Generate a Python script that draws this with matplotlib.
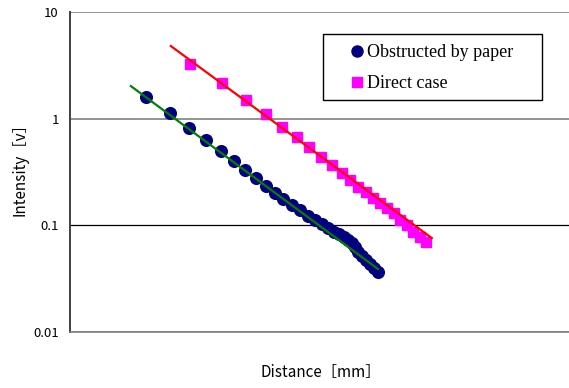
import matplotlib
matplotlib.use("Agg")
import matplotlib.pyplot as plt
from matplotlib.patches import Rectangle
from matplotlib.ticker import FixedLocator, NullLocator, FixedFormatter

# ---- data ----
obstructed_x = [15.2, 20.0, 23.8, 27.3, 30.3, 32.9, 35.1, 37.3, 39.3, 41.1,
                42.7, 44.5, 46.1, 47.7, 49.1, 50.5, 51.7, 52.9, 53.9, 54.9,
                55.7, 56.5, 57.1, 57.7, 58.5, 59.3, 60.1, 60.9, 61.7]
obstructed_y = [1.60, 1.13, 0.818, 0.631, 0.498, 0.401, 0.330, 0.278, 0.234, 0.201,
                0.177, 0.155, 0.139, 0.122, 0.112, 0.103, 0.0944, 0.0867, 0.0830, 0.0778,
                0.0729, 0.0683, 0.0627, 0.0562, 0.0516, 0.0473, 0.0434, 0.0398, 0.0365]

direct_x = [24.0, 30.5, 35.3, 39.3, 42.5, 45.5, 47.9, 50.3, 52.5, 54.5, 56.1,
            57.7, 59.3, 60.7, 62.1, 63.5, 64.9, 66.1, 67.5, 68.7, 70.1, 71.3]
direct_y = [3.25, 2.16, 1.50, 1.11, 0.836, 0.673, 0.542, 0.437, 0.368, 0.310, 0.266,
            0.229, 0.205, 0.180, 0.162, 0.145, 0.131, 0.112, 0.101, 0.0867, 0.0778, 0.0698]

# trend lines (end points)
obstructed_trend_x = [12.2, 61.7]
obstructed_trend_y = [2.02, 0.039]
direct_trend_x = [20.2, 72.5]
direct_trend_y = [4.80, 0.076]

y_ticks = [0.01, 0.1, 1, 10]
y_tick_labels = ["0.01", "0.1", "1", "10"]

series_names = ["Obstructed by paper", "Direct case"]
x_label = "Distance［mm］"
y_label = "Intensity［v］"

JP = ["Noto Sans CJK JP", "DejaVu Sans"]

# ---- figure ----
W, H = 569, 388
fig = plt.figure(figsize=(W / 100, H / 100), dpi=100)
ax = fig.add_axes([70 / W, 56 / H, 499 / W, 320 / H])

ax.set_yscale("log")
ax.set_ylim(0.01, 10)
ax.set_xlim(0, 100)

ax.plot(obstructed_trend_x, obstructed_trend_y, color="#008000", lw=1.6, zorder=4)
ax.plot(direct_trend_x, direct_trend_y, color="#FF0000", lw=1.6, zorder=4)
h1, = ax.plot(obstructed_x, obstructed_y, "o", color="#000080", ms=8.4,
              mec="#000080", zorder=3, label=series_names[0])
h2, = ax.plot(direct_x, direct_y, "s", color="#FF00FF", ms=7.6,
              mec="#FF00FF", zorder=3, label=series_names[1])

ax.yaxis.set_major_locator(FixedLocator(y_ticks))
ax.yaxis.set_major_formatter(FixedFormatter(y_tick_labels))
ax.yaxis.set_minor_locator(NullLocator())
ax.xaxis.set_major_locator(NullLocator())
ax.xaxis.set_minor_locator(NullLocator())
ax.tick_params(axis="y", length=0, pad=8, labelsize=9.5, labelcolor="black")
for t in ax.get_yticklabels():
    t.set_family(JP)

ax.yaxis.grid(True, color="#808080", lw=1.2)
for tick, gl in zip(y_ticks, ax.get_ygridlines()):
    if tick == 0.1:
        gl.set_color("black")
        gl.set_linewidth(0.9)
ax.set_axisbelow(True)

for s in ["top", "right"]:
    ax.spines[s].set_visible(False)
ax.spines["bottom"].set_color("#808080")
ax.spines["bottom"].set_linewidth(1.2)
ax.spines["left"].set_color("#404040")
ax.spines["left"].set_linewidth(1.4)

ax.set_ylabel(y_label, family=JP, fontsize=11)
ax.yaxis.set_label_coords(-41 / 499, 0.52)
ax.set_xlabel(x_label, family=JP, fontsize=11)
ax.xaxis.set_label_coords(0.502, -32 / 320)

# legend (frame drawn separately to match the wide box)
leg = fig.legend(handles=[h1, h2], loc="upper left",
                 bbox_to_anchor=(350 / W, 1 - 44 / H),
                 prop={"family": "Liberation Serif", "size": 13},
                 frameon=False, handlelength=0.8, handletextpad=0.15,
                 borderpad=0, labelspacing=0.78, borderaxespad=0,
                 markerscale=0.95)
leg.set_zorder(7)
fig.patches.append(Rectangle((323 / W, 1 - 100 / H), 219 / W, 66 / H,
                             transform=fig.transFigure, facecolor="white",
                             edgecolor="black", lw=1.0, zorder=6))

fig.savefig("out.png", dpi=100)
